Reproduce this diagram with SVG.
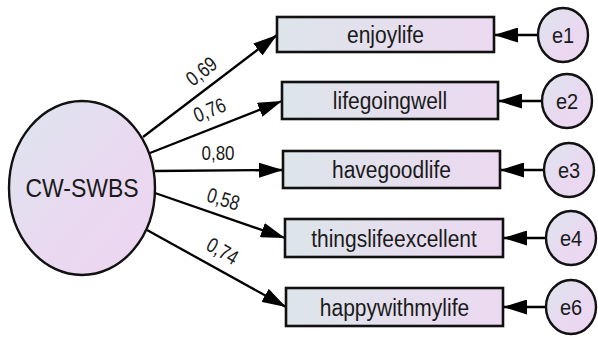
<svg xmlns="http://www.w3.org/2000/svg" width="598" height="337" viewBox="0 0 598 337">
<defs>
<linearGradient id="gBox" x1="0" y1="0" x2="1" y2="0">
<stop offset="0" stop-color="#dde5ea"/>
<stop offset="1" stop-color="#ecd9f1"/>
</linearGradient>
<linearGradient id="gCirc" x1="0" y1="0" x2="1" y2="1">
<stop offset="0" stop-color="#dde5ee"/>
<stop offset="0.6" stop-color="#ead8f1"/>
<stop offset="1" stop-color="#ecd6f0"/>
</linearGradient>
<marker id="ah" viewBox="0 0 24 15" refX="24" refY="7.5" markerWidth="24" markerHeight="15" markerUnits="userSpaceOnUse" orient="auto">
<path d="M0,0 L24,7.5 L0,15 Z" fill="#000"/>
</marker>
<style>
.box{fill:url(#gBox);stroke:#111;stroke-width:2.6}
.circ{fill:url(#gCirc);stroke:#111;stroke-width:2.4}
.t{font-family:"Liberation Sans",Arial,sans-serif;fill:#1a1a1a;text-anchor:middle}
.bt{font-size:21px}
.et{font-size:20px}
.lt{font-size:17px}
.ln{stroke:#000;stroke-width:2.3;fill:none;marker-end:url(#ah)}
</style>
</defs>
<g id="connectors">
<line class="ln" x1="143" y1="137" x2="277" y2="35"/>
<line class="ln" x1="150" y1="153" x2="282" y2="101"/>
<line class="ln" x1="155" y1="171" x2="283" y2="170"/>
<line class="ln" x1="155" y1="193" x2="285" y2="238"/>
<line class="ln" x1="147" y1="230" x2="286" y2="307"/>
<line class="ln" x1="538" y1="35" x2="494" y2="35"/>
<line class="ln" x1="542" y1="101" x2="498" y2="101"/>
<line class="ln" x1="544" y1="170" x2="500" y2="170"/>
<line class="ln" x1="546" y1="238" x2="503" y2="238"/>
<line class="ln" x1="546" y1="307" x2="503" y2="307"/>
<text class="t lt" transform="translate(202,72) rotate(-37.8) scale(1,1.22)" y="5">0,69</text>
<text class="t lt" transform="translate(210,111) rotate(-22) scale(1,1.22)" y="5">0,76</text>
<text class="t lt" transform="translate(218,154) scale(1,1.22)" y="5">0,80</text>
<text class="t lt" transform="translate(223,200) rotate(17) scale(1,1.22)" y="5">0,58</text>
<text class="t lt" transform="translate(222,252) rotate(30) scale(1,1.22)" y="5">0,74</text>
</g>
<g id="cwswbs">
<ellipse class="circ" cx="82" cy="188" rx="73" ry="87"/>
<text class="t" font-size="23" transform="translate(82,197) scale(1,1.1)">CW-SWBS</text>
</g>
<g id="enjoylife">
<rect class="box" x="277" y="17" width="217" height="35"/>
<text class="t bt" transform="translate(385.5,43) scale(1,1.1)">enjoylife</text>
</g>
<g id="lifegoingwell">
<rect class="box" x="282" y="82" width="216" height="37"/>
<text class="t bt" transform="translate(390,109) scale(1,1.1)">lifegoingwell</text>
</g>
<g id="havegoodlife">
<rect class="box" x="283" y="151" width="217" height="37"/>
<text class="t bt" transform="translate(391.5,178) scale(1,1.1)">havegoodlife</text>
</g>
<g id="thingslifeexcellent">
<rect class="box" x="285" y="219" width="218" height="38"/>
<text class="t bt" transform="translate(394,246.5) scale(1,1.1)">thingslifeexcellent</text>
</g>
<g id="happywithmylife">
<rect class="box" x="286" y="288" width="217" height="38"/>
<text class="t bt" transform="translate(394.5,315.5) scale(1,1.1)">happywithmylife</text>
</g>
<g id="e1">
<ellipse class="circ" cx="563" cy="35" rx="25" ry="27"/>
<text class="t et" transform="translate(563,43) scale(1,1.1)">e1</text>
</g>
<g id="e2">
<ellipse class="circ" cx="567" cy="101" rx="25" ry="27"/>
<text class="t et" transform="translate(567,109) scale(1,1.1)">e2</text>
</g>
<g id="e3">
<ellipse class="circ" cx="569" cy="170" rx="25" ry="27"/>
<text class="t et" transform="translate(569,178) scale(1,1.1)">e3</text>
</g>
<g id="e4">
<ellipse class="circ" cx="571" cy="238" rx="25" ry="27"/>
<text class="t et" transform="translate(571,246) scale(1,1.1)">e4</text>
</g>
<g id="e6">
<ellipse class="circ" cx="571" cy="307" rx="25" ry="27"/>
<text class="t et" transform="translate(571,315) scale(1,1.1)">e6</text>
</g>
</svg>
